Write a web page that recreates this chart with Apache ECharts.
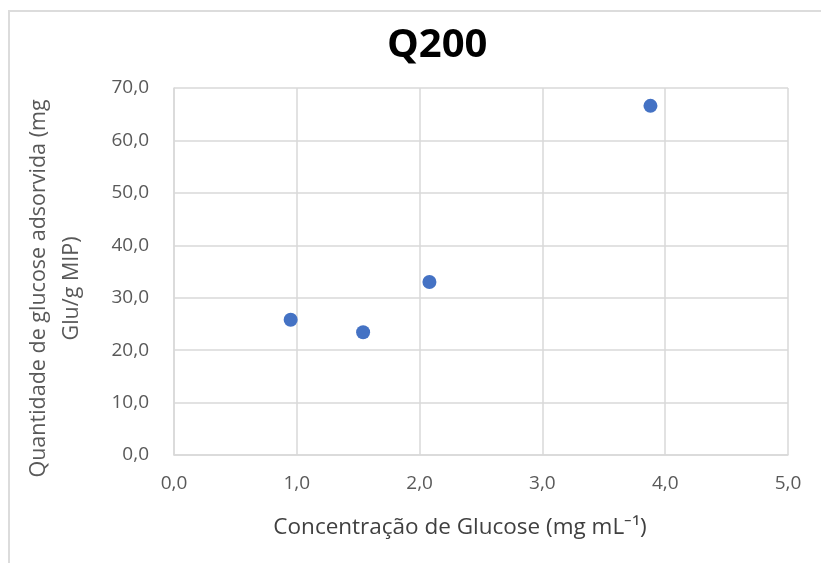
<!DOCTYPE html>
<html>
<head>
<meta charset="utf-8">
<script src="https://cdn.jsdelivr.net/npm/echarts@6/dist/echarts.min.js"></script>
<style>
html,body{margin:0;padding:0;background:#fff;}
#c{width:821px;height:563px;}
</style>
</head>
<body>
<div id="c"></div>
<script>
const chartTitle = 'Q200';
const xValues = [0.95, 1.54, 2.08, 3.88];
const yValues = [25.8, 23.4, 33.0, 66.6];
const xAxisTitle = 'Concentração de Glucose (mg mL⁻¹)';
const yAxisTitle = 'Quantidade de glucose adsorvida (mg\nGlu/g MIP)';

const fmt = v => v.toFixed(1).replace('.', ',');
const points = xValues.map((x, i) => [x, yValues[i]]);
const FONT = 'Open Sans';
const gridColor = '#d9d9d9';

const chart = echarts.init(document.getElementById('c'));
chart.setOption({
  animation: false,
  backgroundColor: '#fff',
  graphic: [{
    type: 'rect',
    shape: {x: 9, y: 11, width: 900, height: 700},
    style: {fill: 'none', stroke: '#dcdcdc', lineWidth: 2},
    silent: true, z: -1
  }],
  title: {
    text: chartTitle,
    left: 382,
    top: 21,
    textStyle: {fontFamily: FONT, fontWeight: 'bold', fontSize: 40, color: '#000'}
  },
  grid: {left: 174, right: 33, top: 88, bottom: 108},
  xAxis: {
    type: 'value', min: 0, max: 5, interval: 1,
    name: xAxisTitle, nameLocation: 'middle', nameGap: 61,
    nameTextStyle: {fontFamily: FONT, fontSize: 22.5, color: '#404040', padding: [0, 42, 0, 0]},
    axisLine: {show: true, lineStyle: {color: gridColor, width: 1.5}},
    axisTick: {show: false},
    axisLabel: {formatter: fmt, fontFamily: FONT, fontSize: 19, color: '#595959', margin: 19},
    splitLine: {show: true, lineStyle: {color: gridColor, width: 1.5}}
  },
  yAxis: {
    type: 'value', min: 0, max: 70, interval: 10,
    name: yAxisTitle, nameLocation: 'middle', nameGap: 86, nameRotate: 90,
    nameTextStyle: {fontFamily: FONT, fontSize: 21.5, color: '#595959', lineHeight: 33, padding: [0, 34, 0, 0]},
    axisLine: {show: true, lineStyle: {color: gridColor, width: 1.5}},
    axisTick: {show: false},
    axisLabel: {formatter: fmt, fontFamily: FONT, fontSize: 19, color: '#595959', margin: 25},
    splitLine: {show: true, lineStyle: {color: gridColor, width: 1.5}}
  },
  series: [{
    type: 'scatter',
    data: points,
    symbol: 'circle',
    symbolSize: 14,
    itemStyle: {color: '#4472C4', opacity: 1}
  }]
});
</script>
</body>
</html>
